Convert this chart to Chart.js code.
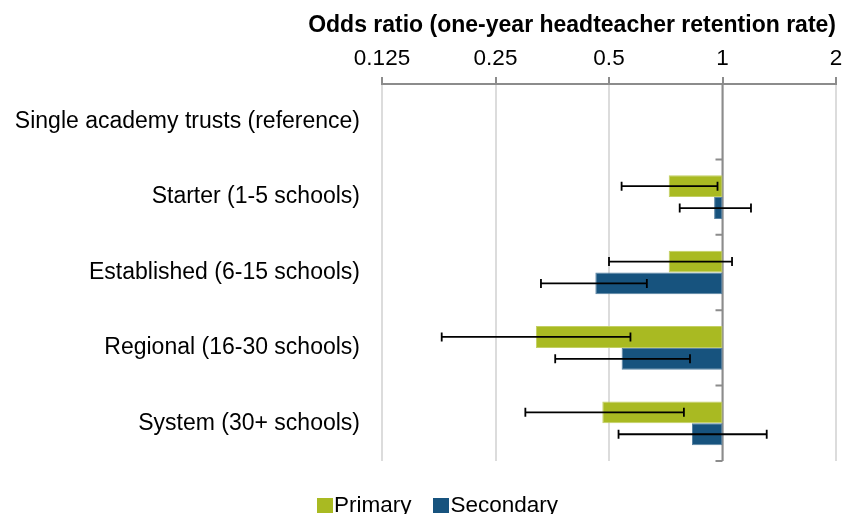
<!DOCTYPE html>
<html>
<head>
<meta charset="utf-8">
<script src="https://cdn.jsdelivr.net/npm/chart.js@4.4.1/dist/chart.umd.min.js"></script>
<style>
  html, body { margin: 0; padding: 0; background: #fff; overflow: hidden; }
  #wrap { position: relative; width: 845px; height: 514px; }
  #legend {
    position: absolute; left: 30px; right: 0; top: 492px;
    text-align: center; white-space: nowrap;
    font-family: 'Liberation Sans', Arial, sans-serif; font-size: 22.5px; line-height: 26px; color: #000;
  }
  #legend span.item { margin: 0 11px; }
  #legend span.box { display: inline-block; width: 16px; height: 15px; margin-right: 1px; vertical-align: -1px; }
</style>
</head>
<body>
<div id="wrap">
  <canvas id="myChart" width="845" height="514"></canvas>
  <div id="legend"></div>
</div>
<script>
// categories (top to bottom)
var categories = ['Single academy trusts (reference)', 'Starter (1-5 schools)', 'Established (6-15 schools)', 'Regional (16-30 schools)', 'System (30+ schools)'];

// odds ratios + 95% CI, reference group has no bar
var primary       = [null, 0.72, 0.72, 0.32, 0.48];
var primaryLow    = [null, 0.54, 0.50, 0.18, 0.30];
var primaryHigh   = [null, 0.97, 1.06, 0.57, 0.79];
var secondary     = [null, 0.95, 0.46, 0.54, 0.83];
var secondaryLow  = [null, 0.77, 0.33, 0.36, 0.53];
var secondaryHigh = [null, 1.19, 0.63, 0.82, 1.31];

var tickValues = [0.125, 0.25, 0.5, 1, 2];
var tickLabels = ['0.125', '0.25', '0.5', '1', '2'];

var FONT = "'Liberation Sans', Arial, sans-serif";

// bars start at the reference value 1
function toBars(vals) {
  return vals.map(function (v) { return v == null ? null : [v, 1]; });
}

var errors = [[primaryLow, primaryHigh], [secondaryLow, secondaryHigh]];

var refAxis = {
  id: 'refAxis',
  beforeDatasetsDraw: function (chart) {
    var ctx = chart.ctx, x = chart.scales.x, y = chart.scales.y;
    var px = x.getPixelForValue(1);
    ctx.save();
    ctx.strokeStyle = '#8c8c8c';
    ctx.lineWidth = 2;
    ctx.beginPath();
    ctx.moveTo(px, chart.chartArea.top);
    ctx.lineTo(px, chart.chartArea.bottom);
    for (var i = 1; i <= categories.length; i++) {
      var py = y.getPixelForValue(i - 0.5);
      ctx.moveTo(px, py);
      ctx.lineTo(px - 7, py);
    }
    ctx.stroke();
    ctx.restore();
  },
  afterDatasetsDraw: function (chart) {
    var ctx = chart.ctx, x = chart.scales.x;
    ctx.save();
    ctx.strokeStyle = '#000';
    ctx.lineWidth = 1.8;
    errors.forEach(function (e, d) {
      var meta = chart.getDatasetMeta(d);
      meta.data.forEach(function (bar, j) {
        if (e[0][j] == null) return;
        var x1 = x.getPixelForValue(e[0][j]);
        var x2 = x.getPixelForValue(e[1][j]);
        var yy = bar.y;
        ctx.beginPath();
        ctx.moveTo(x1, yy); ctx.lineTo(x2, yy);
        ctx.moveTo(x1, yy - 4.5); ctx.lineTo(x1, yy + 4.5);
        ctx.moveTo(x2, yy - 4.5); ctx.lineTo(x2, yy + 4.5);
        ctx.stroke();
      });
    });
    ctx.restore();
  }
};

var chart = new Chart(document.getElementById('myChart'), {
  type: 'bar',
  data: {
    labels: categories,
    datasets: [{
      label: 'Primary',
      data: toBars(primary),
      backgroundColor: '#a9ba22',
      borderColor: '#c3cf63',
      borderWidth: 1,
      borderSkipped: false
    }, {
      label: 'Secondary',
      data: toBars(secondary),
      backgroundColor: '#17537e',
      borderColor: '#5a83a3',
      borderWidth: 1,
      borderSkipped: false
    }]
  },
  options: {
    indexAxis: 'y',
    responsive: false,
    animation: false,
    categoryPercentage: 0.58,
    barPercentage: 1.0,
    layout: { padding: { left: 0, right: 9, top: 0, bottom: 53 } },
    plugins: {
      legend: { display: false },
      tooltip: { enabled: false },
      title: {
        display: true,
        text: 'Odds ratio (one-year headteacher retention rate)',
        align: 'end',
        color: '#000',
        padding: { top: 12, bottom: 0 },
        font: { family: FONT, size: 23, weight: 'bold', lineHeight: 1.2 }
      }
    },
    scales: {
      x: {
        type: 'logarithmic',
        position: 'top',
        min: 0.125,
        max: 2,
        bounds: 'data',
        afterBuildTicks: function (scale) {
          scale.ticks = tickValues.map(function (v) { return { value: v }; });
        },
        afterFit: function (scale) {
          scale.height = 84 - 39.6;
          scale.paddingLeft = 0;
          scale.paddingRight = 9;
        },
        ticks: {
          autoSkip: false,
          maxRotation: 0,
          padding: 5,
          color: '#000',
          font: { family: FONT, size: 22.5 },
          callback: function (v, i) { return tickLabels[i]; }
        },
        grid: { color: '#dcdcdc', lineWidth: 2, tickColor: '#8c8c8c', tickLength: 7, tickWidth: 2 },
        border: { color: '#8c8c8c', width: 2 }
      },
      y: {
        afterFit: function (scale) { scale.width = 382; },
        ticks: {
          padding: 22,
          color: '#000',
          font: { family: FONT, size: 23 }
        },
        grid: { display: false, drawTicks: false },
        border: { display: false }
      }
    }
  },
  plugins: [refAxis]
});

// simple html legend built from the datasets
var legendEl = document.getElementById('legend');
chart.data.datasets.forEach(function (ds) {
  var item = document.createElement('span');
  item.className = 'item';
  var box = document.createElement('span');
  box.className = 'box';
  box.style.background = ds.backgroundColor;
  item.appendChild(box);
  item.appendChild(document.createTextNode(ds.label));
  legendEl.appendChild(item);
});
</script>
</body>
</html>
